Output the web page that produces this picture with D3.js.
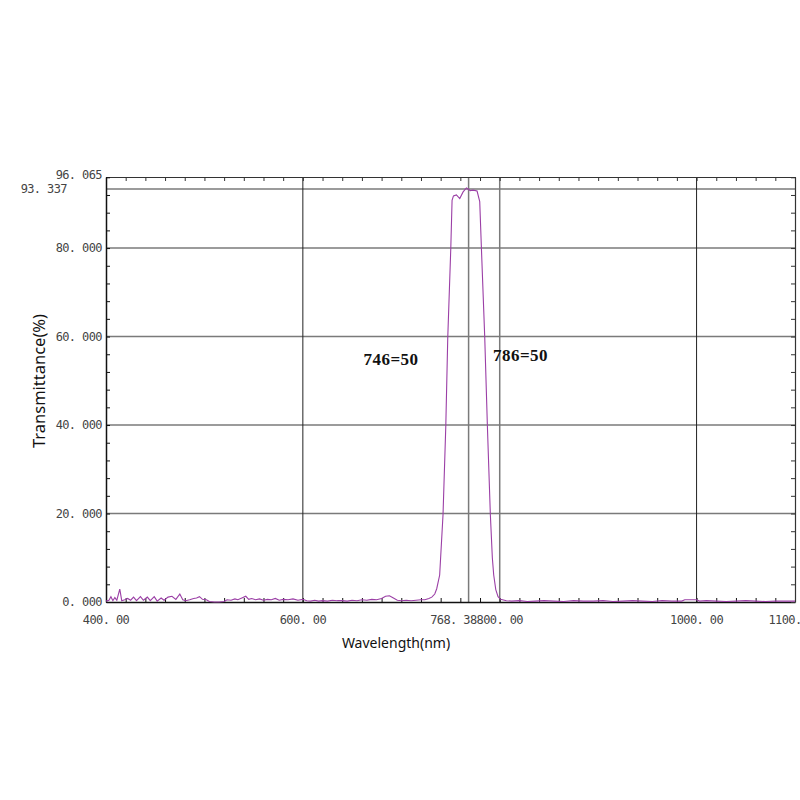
<!DOCTYPE html>
<html>
<head>
<meta charset="utf-8">
<script src="https://cdn.jsdelivr.net/npm/d3@7"></script>
<style>
  html, body { margin: 0; padding: 0; background: #fff; }
  svg { display: block; }
</style>
</head>
<body>
<svg id="chart" width="800" height="800"></svg>
<script>
// ---- data ----
const wavelength = [
  400, 403, 405, 407, 409, 411, 414, 416, 419, 422, 425,
  428, 431, 435, 438, 442, 445, 449, 452, 456, 459, 463, 467, 471, 475, 478,
  481, 485, 489, 492, 495, 498, 502, 505, 510, 515, 520, 523, 527, 531, 534,
  538, 542, 545, 548, 552, 556, 560, 564, 568, 572, 576, 580, 585, 590, 595, 600,
  604, 608, 612, 616, 620, 625, 630, 635, 640, 645, 650, 655, 660, 665, 670,
  675, 680, 684, 688, 692, 696, 700, 705, 710, 715, 720, 724, 728, 731, 734,
  736, 739, 742.4, 745.2, 747.2, 750.3, 751.6, 753, 756, 759.4, 762.8, 766.2,
  768, 770, 772.9, 777, 779.7, 781.4, 784.8, 787.5, 790.5, 792.5, 793.9, 796,
  798.3, 801, 806.8, 812, 820, 828, 836, 845, 855, 865, 875, 885, 895, 905,
  915, 925, 935, 945, 955, 965, 975, 985, 988, 1000, 1003, 1010, 1020, 1030,
  1040, 1050, 1060, 1070, 1080, 1090, 1100
];
const transmittance = [
  0.2, 0.4, 1.2, 0.3, 1.0, 0.4, 2.9, 0.3, 0.5, 0.8, 0.4,
  1.1, 0.3, 1.2, 0.4, 1.1, 0.3, 1.2, 0.2, 0.9, 0.4, 1.1, 1.3, 0.6, 1.8, 0.5,
  0.3, 0.5, 0.8, 0.9, 1.2, 0.6, 0.5, 0.1, 0.0, 0.0, 0.1, 0.5, 0.4, 0.7, 0.5,
  0.9, 1.3, 0.6, 0.8, 0.5, 0.7, 0.4, 0.6, 0.5, 0.8, 0.4, 0.6, 0.5, 0.7, 0.4, 0.6,
  0.3, 0.2, 0.4, 0.2, 0.3, 0.2, 0.4, 0.3, 0.3, 0.2, 0.4, 0.3, 0.5, 0.4, 0.6,
  0.5, 0.8, 1.3, 1.4, 0.9, 0.4, 0.3, 0.4, 0.3, 0.4, 0.5, 0.5, 0.8, 1.1, 1.8,
  3.0, 6.1, 19.7, 39.6, 59.6, 80.0, 90.8, 91.8, 92.0, 91.2, 92.7, 93.6,
  93.3, 93.0, 93.1, 92.9, 90.5, 80.0, 59.7, 39.6, 19.7, 10.0, 6.1, 2.8,
  1.2, 0.6, 0.3, 0.2, 0.3, 0.1, 0.2, 0.3, 0.2, 0.1, 0.3, 0.2, 0.2, 0.3,
  0.1, 0.2, 0.3, 0.2, 0.1, 0.3, 0.2, 0.2, 0.5, 0.5, 0.2, 0.3, 0.2, 0.1,
  0.2, 0.3, 0.2, 0.1, 0.2, 0.2, 0.2
];
const yTicks = [0, 20, 40, 60, 80];
const yExtraTop = 96.065;     // top of axis
const yMarker = 93.337;       // peak marker line
const xTicks = [400, 600, 800, 1000, 1100];
const xMarker = 768.38;
const annotations = [
  { text: "746=50", wl: 746, t: 53.5 },
  { text: "786=50", wl: 786, t: 54.5 }
];
const xLabel = "Wavelength(nm)";
const yLabel = "Transmittance(%)";

// ---- layout ----
const svg = d3.select("#chart");
const pL = 106, pR = 795, pT = 177, pB = 602;
const x = d3.scaleLinear().domain([400, 1100]).range([pL, pR]);
const y = d3.scaleLinear().domain([0, yExtraTop]).range([pB, pT]);

const tickFont = "'DejaVu Sans Mono', monospace";
const fmtY = v => d3.format(".3f")(v).replace(".", ". ");
const fmtX = v => d3.format(".2f")(v).replace(".", ". ");

const g = svg.append("g");

// horizontal gridlines
g.selectAll("line.hgrid").data(yTicks.filter(d => d > 0).concat([yMarker]))
  .join("line").attr("class", "hgrid")
  .attr("x1", pL).attr("x2", pR)
  .attr("y1", d => y(d)).attr("y2", d => y(d))
  .attr("stroke", "#7a7a7a").attr("stroke-width", 1.5);

// vertical gridlines
const vgrid = [
  { v: 600, c: "#222", w: 1 },
  { v: xMarker, c: "#7a7a7a", w: 1.5 },
  { v: 800, c: "#7a7a7a", w: 1.5 },
  { v: 1000, c: "#222", w: 1 }
];
g.selectAll("line.vgrid").data(vgrid).join("line").attr("class", "vgrid")
  .attr("x1", d => x(d.v)).attr("x2", d => x(d.v))
  .attr("y1", pT).attr("y2", pB)
  .attr("stroke", d => d.c).attr("stroke-width", d => d.w);

// minor ticks via d3 axes
const xMinor = d3.range(400, 1101, 20);
const yMinor = d3.range(0, yExtraTop, 4);
svg.append("g").attr("transform", `translate(0,${pB})`)
  .call(d3.axisTop(x).tickValues(xMinor).tickSize(4).tickSizeOuter(0).tickFormat(""))
  .call(s => s.select(".domain").attr("stroke", "#111").attr("stroke-width", 1.5))
  .call(s => s.selectAll(".tick line").attr("stroke", "#111"));
svg.append("g").attr("transform", `translate(0,${pT})`)
  .call(d3.axisBottom(x).tickValues(xMinor).tickSize(4).tickSizeOuter(0).tickFormat(""))
  .call(s => s.select(".domain").attr("stroke", "#333").attr("stroke-width", 1.2))
  .call(s => s.selectAll(".tick line").attr("stroke", "#333"));
svg.append("g").attr("transform", `translate(${pL},0)`)
  .call(d3.axisRight(y).tickValues(yMinor).tickSize(4).tickSizeOuter(0).tickFormat(""))
  .call(s => s.select(".domain").attr("stroke", "#111").attr("stroke-width", 1.5))
  .call(s => s.selectAll(".tick line").attr("stroke", "#111"));
svg.append("g").attr("transform", `translate(${pR},0)`)
  .call(d3.axisLeft(y).tickValues(yMinor).tickSize(4).tickSizeOuter(0).tickFormat(""))
  .call(s => s.select(".domain").attr("stroke", "#333").attr("stroke-width", 1.2))
  .call(s => s.selectAll(".tick line").attr("stroke", "#333"));

// curve
const pts = wavelength.map((w, i) => [w, transmittance[i]]);
svg.append("path").datum(pts)
  .attr("fill", "none").attr("stroke", "#9b3fa6").attr("stroke-width", 1.1)
  .attr("d", d3.line().x(d => x(d[0])).y(d => y(d[1])));

// y labels
const lab = svg.append("g").attr("font-family", tickFont).attr("font-size", 12)
  .attr("fill", "#444").attr("letter-spacing", -0.6);
lab.selectAll("text.yl").data(yTicks).join("text").attr("class", "yl")
  .attr("x", pL - 4).attr("y", d => y(d)).attr("dy", "0.35em")
  .attr("text-anchor", "end").text(fmtY);
lab.append("text").attr("x", pL - 4).attr("y", y(yExtraTop)).attr("dy", "0.2em")
  .attr("text-anchor", "end").text(fmtY(yExtraTop));
lab.append("text").attr("x", 67).attr("y", y(yMarker)).attr("dy", "0.35em")
  .attr("text-anchor", "end").text(fmtY(yMarker));

// x labels
const xl = lab.selectAll("text.xl").data(xTicks).join("text").attr("class", "xl")
  .attr("x", d => x(d)).attr("y", pB + 22)
  .attr("text-anchor", "middle").text(fmtX);
const w800 = xl.filter(d => d === 800).node().getComputedTextLength();
lab.append("text").attr("x", x(800) - w800 / 2).attr("y", pB + 22)
  .attr("text-anchor", "end").text(fmtX(xMarker));

// annotations
svg.append("g").selectAll("text").data(annotations).join("text")
  .attr("x", (d, i) => i === 0 ? x(d.wl) - 28 : x(d.wl) + 7)
  .attr("y", d => y(d.t))
  .attr("text-anchor", (d, i) => i === 0 ? "end" : "start")
  .attr("font-family", "'Liberation Serif', serif").attr("font-weight", "bold")
  .attr("font-size", 17).attr("letter-spacing", 0.5)
  .attr("fill", "#111").text(d => d.text);

// axis titles
svg.append("text").attr("x", 396).attr("y", 648).attr("text-anchor", "middle")
  .attr("font-family", "'Noto Sans', sans-serif").attr("font-size", 14)
  .attr("fill", "#111").text(xLabel);
svg.append("text").attr("transform", "translate(45,381) rotate(-90)")
  .attr("text-anchor", "middle")
  .attr("font-family", "'Noto Sans', sans-serif").attr("font-size", 16.5)
  .attr("fill", "#111").text(yLabel);
</script>
</body>
</html>
